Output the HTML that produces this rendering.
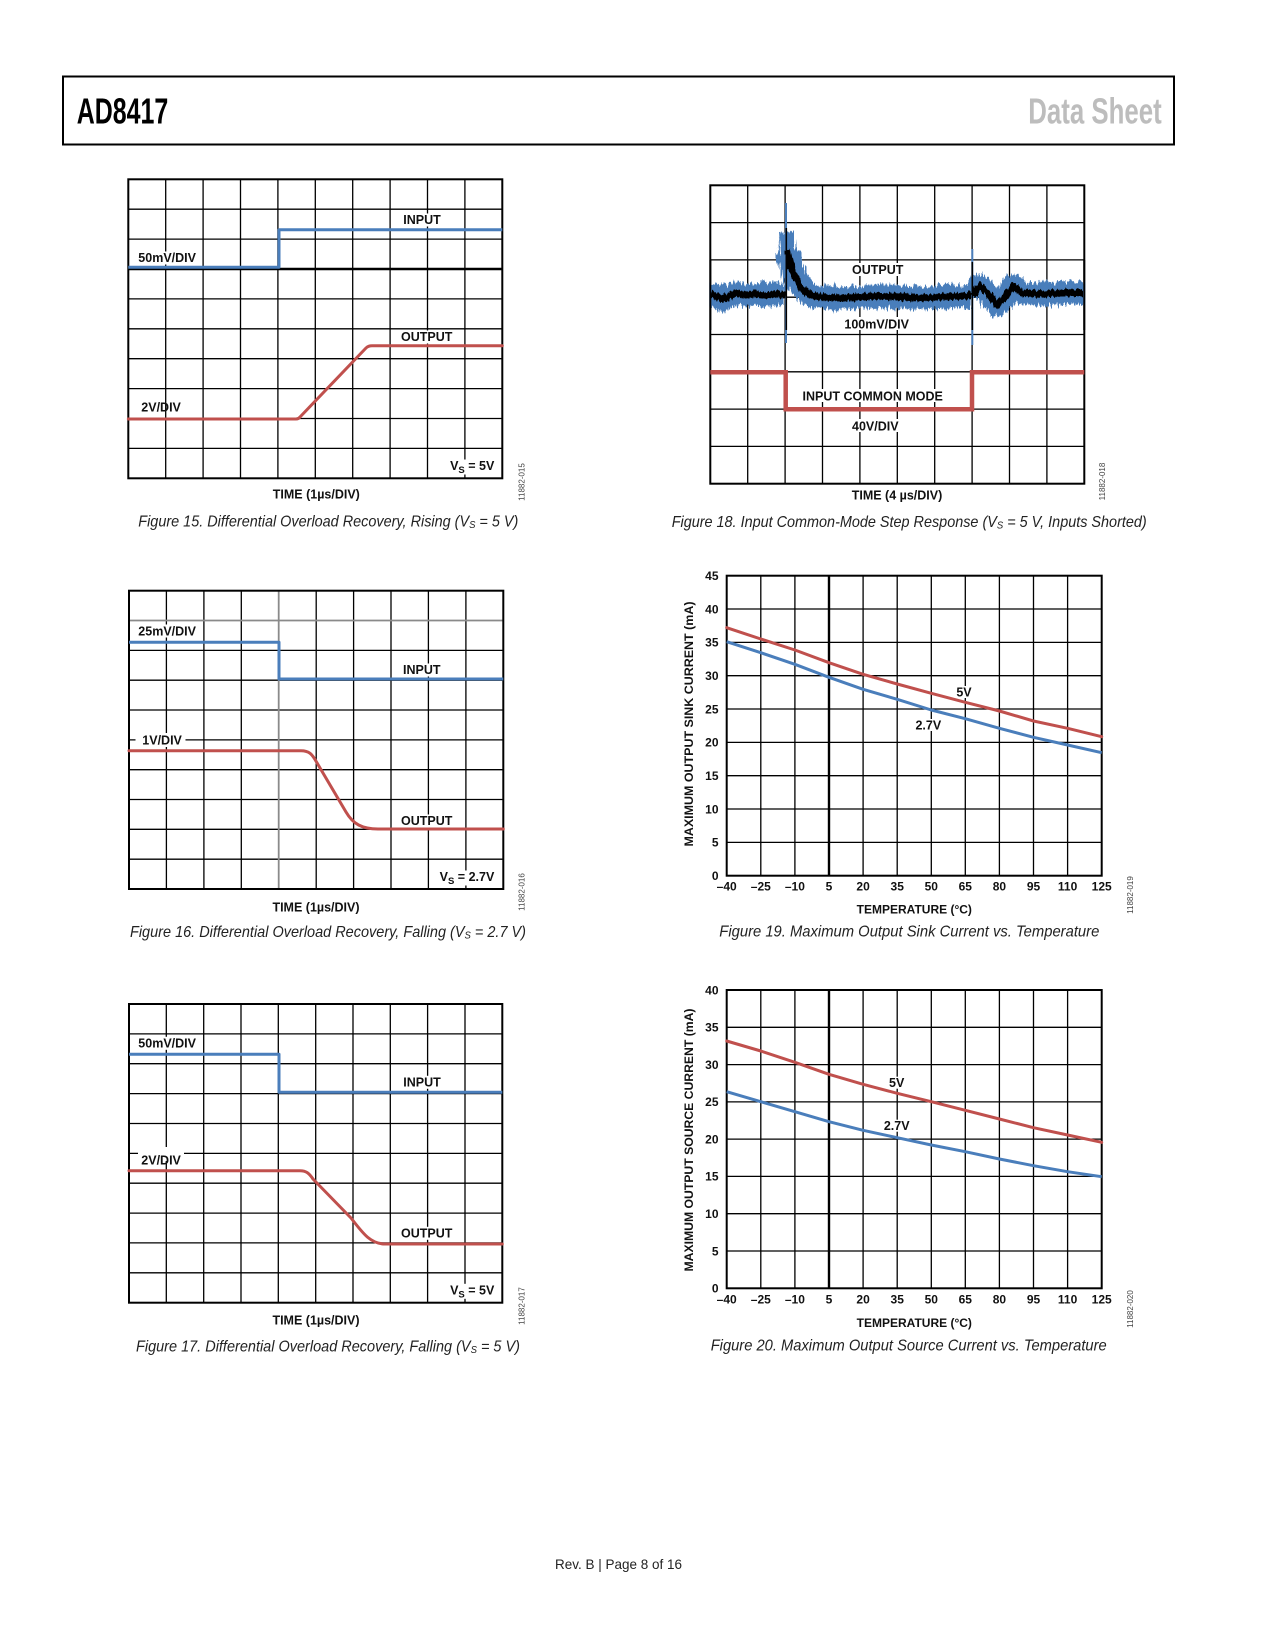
<!DOCTYPE html>
<html>
<head>
<meta charset="utf-8">
<style>
  html,body{margin:0;padding:0;background:#fff;}
  svg{display:block;}
  .lb{font-family:"Liberation Sans",Arial,sans-serif;font-weight:bold;font-size:12.5px;fill:#111;}
  .tk{font-family:"Liberation Sans",Arial,sans-serif;font-weight:bold;font-size:12px;fill:#111;}
  .cap{font-family:"Liberation Sans",Arial,sans-serif;font-style:italic;font-size:16px;fill:#222;}
  .wm{font-family:"Liberation Sans",Arial,sans-serif;font-size:8px;fill:#444;}
  .grid{stroke:#000;stroke-width:1.3;fill:none;}
  .box{stroke:#000;stroke-width:2;fill:none;}
  .blue{stroke:#4a7ebb;stroke-width:3;fill:none;stroke-linejoin:round;}
  .red{stroke:#c0504d;stroke-width:3;fill:none;stroke-linejoin:round;stroke-linecap:round;}
  .bg{fill:#fff;}
</style>
</head>
<body>
<svg width="1275" height="1650" viewBox="0 0 1275 1650" xmlns="http://www.w3.org/2000/svg">
<defs>
<filter id="nz" filterUnits="userSpaceOnUse" x="700" y="180" width="400" height="180">
<feTurbulence type="fractalNoise" baseFrequency="0.55 0.03" numOctaves="2" seed="3" result="t"/>
<feDisplacementMap in="SourceGraphic" in2="t" scale="12" xChannelSelector="B" yChannelSelector="G"/>
</filter>
<filter id="nz2" filterUnits="userSpaceOnUse" x="700" y="180" width="400" height="180">
<feTurbulence type="fractalNoise" baseFrequency="0.5 0.04" numOctaves="2" seed="9" result="t"/>
<feDisplacementMap in="SourceGraphic" in2="t" scale="6" xChannelSelector="B" yChannelSelector="G"/>
</filter>
</defs>
<rect x="0" y="0" width="1275" height="1650" fill="#fff"/>

<!-- Header -->
<rect x="63" y="76.5" width="1111" height="68" fill="none" stroke="#000" stroke-width="2"/>
<text x="76.7" y="123.3" font-family="'Liberation Sans',Arial,sans-serif" font-weight="bold" font-size="36" fill="#000" textLength="91.6" lengthAdjust="spacingAndGlyphs">AD8417</text>
<text x="1028.3" y="123.3" font-family="'Liberation Sans',Arial,sans-serif" font-weight="bold" font-size="36" fill="#bdbdbd" textLength="133.4" lengthAdjust="spacingAndGlyphs">Data Sheet</text>

<!-- ================= Figure 15 ================= -->
<path class="grid" d="M165.7,179.3V478.3M203.1,179.3V478.3M240.5,179.3V478.3M277.9,179.3V478.3M315.3,179.3V478.3M352.7,179.3V478.3M390.1,179.3V478.3M427.5,179.3V478.3M464.9,179.3V478.3
M128.3,209.2H502.3M128.3,239.1H502.3M128.3,298.9H502.3M128.3,328.8H502.3M128.3,358.7H502.3M128.3,388.6H502.3M128.3,418.5H502.3M128.3,448.4H502.3"/>
<path d="M128.3,269H502.3" stroke="#000" stroke-width="2.4"/>
<rect class="box" x="128.3" y="179.3" width="374" height="299"/>
<path class="blue" d="M128.3,267.3H279V229.7H502.3"/>
<path class="red" d="M128.3,419H296C298,419 299,418.5 300,417L366,348C367.5,346.5 369,345.7 372,345.7H502.3"/>
<rect class="bg" x="401" y="213.5" width="42" height="13"/>
<rect class="bg" x="136" y="251.5" width="62" height="13"/>
<rect class="bg" x="399" y="330.5" width="56" height="13"/>
<rect class="bg" x="450" y="459.5" width="46" height="15"/>
<text class="lb" x="403.3" y="224">INPUT</text>
<text class="lb" x="138.3" y="262">50mV/DIV</text>
<text class="lb" x="401" y="341">OUTPUT</text>
<text class="lb" x="141.3" y="411.6">2V/DIV</text>
<text class="lb" x="494.3" y="470" text-anchor="end">V<tspan font-size="9.5" dy="3">S</tspan><tspan dy="-3"> = 5V</tspan></text>
<text class="lb" x="316.3" y="498.6" text-anchor="middle">TIME (1µs/DIV)</text>
<text class="wm" transform="translate(524.5,482) rotate(-90)" text-anchor="middle">11882-015</text>
<text class="cap" x="138.3" y="526.5" textLength="380" lengthAdjust="spacingAndGlyphs">Figure 15. Differential Overload Recovery, Rising (V<tspan font-size="10.5" dy="1.5">S</tspan><tspan dy="-1.5"> = 5 V)</tspan></text>

<!-- ================= Figure 16 ================= -->
<path class="grid" d="M166.4,590.7V889M203.9,590.7V889M241.3,590.7V889M316.2,590.7V889M353.6,590.7V889M391,590.7V889M428.4,590.7V889M465.9,590.7V889
M129,650.4H503.3M129,680.2H503.3M129,710H503.3M129,739.9H503.3M129,769.7H503.3M129,799.5H503.3M129,829.3H503.3M129,859.2H503.3"/>
<path d="M278.7,590.7V889M129,620.5H503.3" stroke="#8a8a8a" stroke-width="1.8"/>
<rect class="box" x="129" y="590.7" width="374.3" height="298.3"/>
<path class="blue" d="M129,642.3H279V679H503.3"/>
<path class="red" d="M129,750.7H301C309,750.7 312,754 316.5,762L346,812C353,824 362,829 378,829H503.3"/>
<rect class="bg" x="136" y="624.5" width="62" height="13"/>
<rect class="bg" x="401" y="663.5" width="42" height="13"/>
<rect class="bg" x="135.5" y="733" width="50" height="14"/>
<rect class="bg" x="399" y="814.5" width="56" height="13"/>
<rect class="bg" x="434" y="870.5" width="62" height="15"/>
<text class="lb" x="138.3" y="635.3">25mV/DIV</text>
<text class="lb" x="403" y="674">INPUT</text>
<text class="lb" x="142.3" y="744.3">1V/DIV</text>
<text class="lb" x="401" y="825">OUTPUT</text>
<text class="lb" x="494.3" y="881" text-anchor="end">V<tspan font-size="9.5" dy="3">S</tspan><tspan dy="-3"> = 2.7V</tspan></text>
<text class="lb" x="316" y="911.6" text-anchor="middle">TIME (1µs/DIV)</text>
<text class="wm" transform="translate(524.5,892) rotate(-90)" text-anchor="middle">11882-016</text>
<text class="cap" x="130" y="937" textLength="396" lengthAdjust="spacingAndGlyphs">Figure 16. Differential Overload Recovery, Falling (V<tspan font-size="10.5" dy="1.5">S</tspan><tspan dy="-1.5"> = 2.7 V)</tspan></text>

<!-- ================= Figure 17 ================= -->
<path class="grid" d="M166.3,1004V1302.7M203.7,1004V1302.7M241,1004V1302.7M278.3,1004V1302.7M315.7,1004V1302.7M353,1004V1302.7M390.3,1004V1302.7M427.6,1004V1302.7M465,1004V1302.7
M129,1033.9H502.3M129,1063.7H502.3M129,1093.6H502.3M129,1123.5H502.3M129,1153.4H502.3M129,1183.2H502.3M129,1213.1H502.3M129,1242.9H502.3M129,1272.8H502.3"/>
<rect class="box" x="129" y="1004" width="373.3" height="298.7"/>
<path class="blue" d="M129,1054.3H279V1092.3H502.3"/>
<path class="red" d="M129,1170.7H300C306,1170.7 309,1173 313,1179L351,1218C362,1232 370,1244 385,1244H502.3"/>
<rect class="bg" x="136" y="1036.8" width="62" height="13"/>
<rect class="bg" x="401" y="1075.8" width="42" height="13"/>
<rect class="bg" x="138" y="1147" width="46" height="14"/>
<rect class="bg" x="399" y="1226.8" width="56" height="13"/>
<rect class="bg" x="450" y="1283.8" width="46" height="15"/>
<text class="lb" x="138.3" y="1047.6">50mV/DIV</text>
<text class="lb" x="403.3" y="1086.6">INPUT</text>
<text class="lb" x="141.3" y="1164.3">2V/DIV</text>
<text class="lb" x="401" y="1237.6">OUTPUT</text>
<text class="lb" x="494.3" y="1294.3" text-anchor="end">V<tspan font-size="9.5" dy="3">S</tspan><tspan dy="-3"> = 5V</tspan></text>
<text class="lb" x="316" y="1324.3" text-anchor="middle">TIME (1µs/DIV)</text>
<text class="wm" transform="translate(524.5,1306) rotate(-90)" text-anchor="middle">11882-017</text>
<text class="cap" x="136" y="1351.5" textLength="384" lengthAdjust="spacingAndGlyphs">Figure 17. Differential Overload Recovery, Falling (V<tspan font-size="10.5" dy="1.5">S</tspan><tspan dy="-1.5"> = 5 V)</tspan></text>

<!-- ================= Figure 18 ================= -->
<path class="grid" d="M747.7,185.3V483.7M785.1,185.3V483.7M822.5,185.3V483.7M859.9,185.3V483.7M897.3,185.3V483.7M934.7,185.3V483.7M972.1,185.3V483.7M1009.5,185.3V483.7M1046.9,185.3V483.7
M710.3,222.6H1084.3M710.3,259.9H1084.3M710.3,297.2H1084.3M710.3,334.5H1084.3M710.3,371.8H1084.3M710.3,409.1H1084.3M710.3,446.4H1084.3"/>
<rect class="box" x="710.3" y="185.3" width="374" height="298.4"/>
<!-- output noise band -->
<g stroke="#4a7ebb" fill="none" stroke-linejoin="round" filter="url(#nz)">
<path d="M704,294 L716,296 L722,299 L728,297 L735,293 L745,295 L755,294 L765,295 L775,294 L785,295" stroke-width="23"/>
<path d="M787,250 L792,268 L800,286 L810,295 L820,297 L840,298 L860,297 L880,296 L900,297 L920,298 L940,297 L960,296 L971,296" stroke-width="23"/>
<path d="M786.5,232 L788,252 L793,270" stroke-width="15"/>
<path d="M973,296 L980,286 L988,293 L997,305 L1005,297 L1013,286 L1022,293 L1040,294 L1060,293 L1090,293" stroke-width="23"/>
</g>
<rect x="1085.3" y="260" width="14" height="70" fill="#fff"/>
<rect x="696" y="260" width="13.3" height="70" fill="#fff"/>
<path d="M1084.3,260V330M710.3,260V330" stroke="#000" stroke-width="2"/>
<path d="M786,203V343M972.3,249V345" stroke="#4a7ebb" stroke-width="2"/>
<!-- black center trace -->
<g filter="url(#nz2)">
<path d="M710.3,294 L716,296 L722,299 L728,297 L735,293 L745,295 L755,294 L765,295 L775,294 L785,295 M787.3,250 L792,270 L800,287 L810,295 L820,297 L840,298 L860,297 L880,296 L900,297 L920,298 L940,297 L960,296 L971,296 M973,296 L980,286 L988,293 L997,305 L1005,297 L1013,286 L1022,293 L1040,294 L1060,293 L1083,293" stroke="#000" stroke-width="7" fill="none" stroke-linejoin="round"/>
</g>
<path d="M786.3,228V330M972.3,262V330" stroke="#000" stroke-width="1.6"/>
<!-- input common mode -->
<path d="M710.3,372.3H785.7V409.3H972V372.3H1084.3" stroke="#c0504d" stroke-width="4.5" fill="none"/>
<rect class="bg" x="850" y="263" width="56" height="13"/>
<rect class="bg" x="845" y="317" width="64" height="13"/>
<rect class="bg" x="809" y="389" width="128" height="13"/>
<rect class="bg" x="850" y="419" width="52" height="13"/>
<text class="lb" x="877.7" y="274" text-anchor="middle">OUTPUT</text>
<text class="lb" x="876.7" y="328.3" text-anchor="middle">100mV/DIV</text>
<text class="lb" x="872.7" y="400.3" text-anchor="middle">INPUT COMMON MODE</text>
<text class="lb" x="875.3" y="430.3" text-anchor="middle">40V/DIV</text>
<text class="lb" x="897" y="499.3" text-anchor="middle">TIME (4 µs/DIV)</text>
<text class="wm" transform="translate(1105,481.5) rotate(-90)" text-anchor="middle">11882-018</text>
<text class="cap" x="671.7" y="527" textLength="475" lengthAdjust="spacingAndGlyphs">Figure 18. Input Common-Mode Step Response (V<tspan font-size="10.5" dy="1.5">S</tspan><tspan dy="-1.5"> = 5 V, Inputs Shorted)</tspan></text>

<!-- ================= Figure 19 ================= -->
<path class="grid" d="M760.8,575.7V875.7M794.9,575.7V875.7M863.1,575.7V875.7M897.2,575.7V875.7M931.3,575.7V875.7M965.3,575.7V875.7M999.4,575.7V875.7M1033.5,575.7V875.7M1067.6,575.7V875.7
M726.7,609H1101.7M726.7,642.4H1101.7M726.7,675.7H1101.7M726.7,709H1101.7M726.7,742.4H1101.7M726.7,775.7H1101.7M726.7,809H1101.7M726.7,842.4H1101.7"/>
<path d="M829,575.7V875.7" stroke="#000" stroke-width="2.4"/>
<rect class="box" x="726.7" y="575.7" width="375" height="300"/>
<polyline class="red" points="726.7,627.7 760.8,639 794.9,650 829,662.7 863.1,674.3 897.2,684 931.3,693.3 965.3,702.3 999.4,711 1033.5,721 1067.6,728.3 1101.7,736.7"/>
<polyline class="blue" points="726.7,641.7 760.8,652.7 794.9,664.3 829,677.3 863.1,689.3 897.2,699.3 931.3,710 965.3,718.7 999.4,728.3 1033.5,737.3 1067.6,745 1101.7,752.7"/>
<rect class="bg" x="955" y="686" width="18" height="12"/>
<rect class="bg" x="914" y="719" width="29" height="12"/>
<text class="lb" x="964" y="696.3" text-anchor="middle">5V</text>
<text class="lb" x="928.3" y="729.3" text-anchor="middle">2.7V</text>
<g class="tk" text-anchor="end">
<text x="718.5" y="580">45</text><text x="718.5" y="613.3">40</text><text x="718.5" y="646.7">35</text><text x="718.5" y="680">30</text><text x="718.5" y="713.3">25</text><text x="718.5" y="746.7">20</text><text x="718.5" y="780">15</text><text x="718.5" y="813.3">10</text><text x="718.5" y="846.7">5</text><text x="718.5" y="880">0</text>
</g>
<g class="tk" text-anchor="middle">
<text x="726.7" y="890.3">–40</text><text x="760.8" y="890.3">–25</text><text x="794.9" y="890.3">–10</text><text x="829" y="890.3">5</text><text x="863.1" y="890.3">20</text><text x="897.2" y="890.3">35</text><text x="931.3" y="890.3">50</text><text x="965.3" y="890.3">65</text><text x="999.4" y="890.3">80</text><text x="1033.5" y="890.3">95</text><text x="1067.6" y="890.3">110</text><text x="1101.7" y="890.3">125</text>
</g>
<text class="tk" x="914.3" y="913.6" text-anchor="middle">TEMPERATURE (°C)</text>
<text class="tk" transform="translate(693.2,724) rotate(-90)" text-anchor="middle" textLength="245" lengthAdjust="spacingAndGlyphs">MAXIMUM OUTPUT SINK CURRENT (mA)</text>
<text class="wm" transform="translate(1133,895) rotate(-90)" text-anchor="middle">11882-019</text>
<text class="cap" x="719.3" y="936.5" textLength="380" lengthAdjust="spacingAndGlyphs">Figure 19. Maximum Output Sink Current vs. Temperature</text>

<!-- ================= Figure 20 ================= -->
<path class="grid" d="M760.8,990V1288.3M794.9,990V1288.3M863.1,990V1288.3M897.2,990V1288.3M931.3,990V1288.3M965.3,990V1288.3M999.4,990V1288.3M1033.5,990V1288.3M1067.6,990V1288.3
M726.7,1027.3H1101.7M726.7,1064.6H1101.7M726.7,1101.9H1101.7M726.7,1139.1H1101.7M726.7,1176.4H1101.7M726.7,1213.7H1101.7M726.7,1251H1101.7"/>
<path d="M829,990V1288.3" stroke="#000" stroke-width="2.4"/>
<rect class="box" x="726.7" y="990" width="375" height="298.3"/>
<polyline class="red" points="726.7,1041 760.8,1051 794.9,1062.3 829,1074.3 863.1,1084.3 897.2,1093.3 931.3,1101.7 965.3,1110.3 999.4,1119 1033.5,1127.7 1067.6,1135 1101.7,1142.3"/>
<polyline class="blue" points="726.7,1091.7 760.8,1101.7 794.9,1111.7 829,1121.7 863.1,1130.3 897.2,1137.7 931.3,1145 965.3,1151.7 999.4,1159 1033.5,1165.7 1067.6,1171.7 1101.7,1176.7"/>
<rect class="bg" x="887.7" y="1076.7" width="18" height="12"/>
<rect class="bg" x="882.2" y="1119.7" width="29" height="12"/>
<text class="lb" x="896.7" y="1087" text-anchor="middle">5V</text>
<text class="lb" x="896.7" y="1130" text-anchor="middle">2.7V</text>
<g class="tk" text-anchor="end">
<text x="718.5" y="994.3">40</text><text x="718.5" y="1031.6">35</text><text x="718.5" y="1068.9">30</text><text x="718.5" y="1106.2">25</text><text x="718.5" y="1143.4">20</text><text x="718.5" y="1180.7">15</text><text x="718.5" y="1218">10</text><text x="718.5" y="1255.3">5</text><text x="718.5" y="1292.6">0</text>
</g>
<g class="tk" text-anchor="middle">
<text x="726.7" y="1303.6">–40</text><text x="760.8" y="1303.6">–25</text><text x="794.9" y="1303.6">–10</text><text x="829" y="1303.6">5</text><text x="863.1" y="1303.6">20</text><text x="897.2" y="1303.6">35</text><text x="931.3" y="1303.6">50</text><text x="965.3" y="1303.6">65</text><text x="999.4" y="1303.6">80</text><text x="1033.5" y="1303.6">95</text><text x="1067.6" y="1303.6">110</text><text x="1101.7" y="1303.6">125</text>
</g>
<text class="tk" x="914.3" y="1327" text-anchor="middle">TEMPERATURE (°C)</text>
<text class="tk" transform="translate(693.2,1140) rotate(-90)" text-anchor="middle" textLength="263" lengthAdjust="spacingAndGlyphs">MAXIMUM OUTPUT SOURCE CURRENT (mA)</text>
<text class="wm" transform="translate(1133,1309) rotate(-90)" text-anchor="middle">11882-020</text>
<text class="cap" x="710.7" y="1350.5" textLength="396" lengthAdjust="spacingAndGlyphs">Figure 20. Maximum Output Source Current vs. Temperature</text>

<!-- Footer -->
<text x="555" y="1569" font-family="'Liberation Sans',Arial,sans-serif" font-size="14" fill="#222" textLength="127" lengthAdjust="spacingAndGlyphs">Rev. B | Page 8 of 16</text>
</svg>
</body>
</html>
